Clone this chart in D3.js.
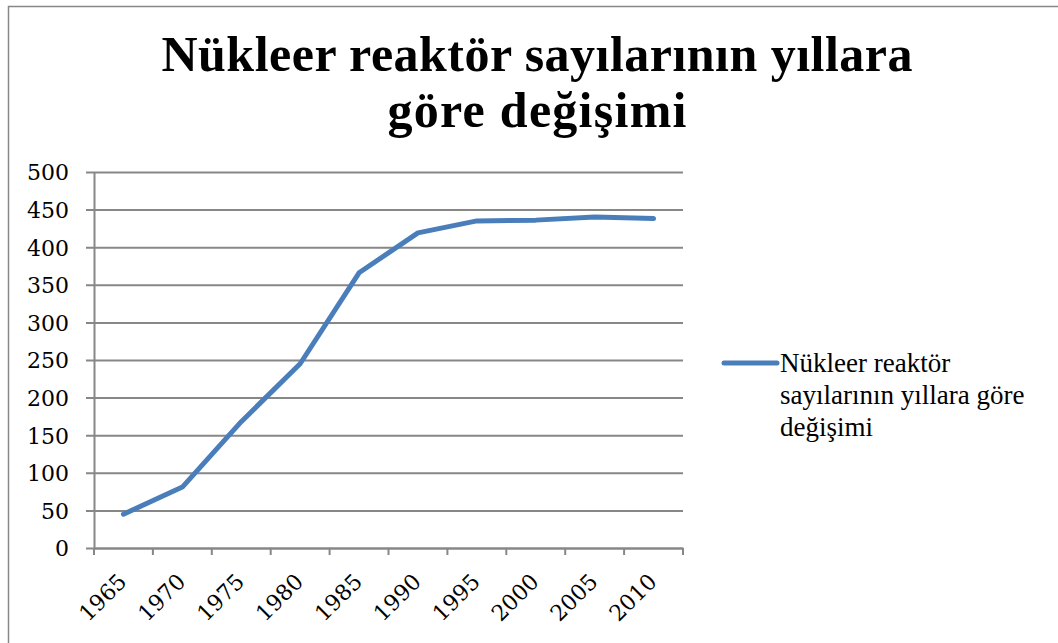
<!DOCTYPE html>
<html>
<head>
<meta charset="utf-8">
<script src="https://cdn.jsdelivr.net/npm/d3@7"></script>
<style>
    body { margin: 0; background: #fff; }
</style>
</head>
<body>
<div id="chart"></div>
<script>
// data
var years = ["1965", "1970", "1975", "1980", "1985", "1990", "1995", "2000", "2005", "2010"];
var reactorCounts = [45, 81, 168, 245, 366, 419, 435, 436, 440, 438];
var yTickValues = [0, 50, 100, 150, 200, 250, 300, 350, 400, 450, 500];
var titleLines = ["Nükleer reaktör sayılarının yıllara", "göre değişimi"];
var legendLines = ["Nükleer reaktör", "sayılarının yıllara göre", "değişimi"];

var width = 1058, height = 643;
var margin = {top: 172, left: 94, right: 375, bottom: 95};
var lineColor = "#4a7ebb", gridColor = "#878787";
var serif = "'Liberation Serif', 'DejaVu Serif', serif";
var numFont = "'DejaVu Serif', serif";

var svg = d3.select("#chart").append("svg")
    .attr("width", width)
    .attr("height", height);

// chart frame (only the top and left edges show in the picture)
svg.append("rect")
    .attr("x", 8.5).attr("y", 6.5)
    .attr("width", width + 20).attr("height", height + 20)
    .attr("fill", "none")
    .attr("stroke", gridColor)
    .attr("stroke-width", 1.5);

var xScale = d3.scaleBand()
    .domain(years)
    .range([margin.left, width - margin.right]);

var yScale = d3.scaleLinear()
    .domain([0, 500])
    .range([height - margin.bottom, margin.top]);

// title, stretched a bit to the width of the original wider face
var titleWidths = [751, 299];
svg.append("g").attr("class", "title")
    .selectAll("text").data(titleLines).enter().append("text")
    .attr("x", 537)
    .attr("y", function (d, i) { return 71 + i * 56; })
    .attr("text-anchor", "middle")
    .attr("textLength", function (d, i) { return titleWidths[i]; })
    .attr("lengthAdjust", "spacing")
    .style("font-family", serif)
    .style("font-size", "50px")
    .style("font-weight", "bold")
    .text(function (d) { return d; });

// y axis with gridlines
var yAxis = d3.axisLeft(yScale)
    .tickValues(yTickValues)
    .tickSizeInner(-(xScale.range()[1] - xScale.range()[0]))
    .tickSizeOuter(0)
    .tickPadding(25);

var yG = svg.append("g")
    .attr("class", "axis y-axis")
    .attr("transform", "translate(" + margin.left + ",0)")
    .call(yAxis);
yG.select(".domain").attr("stroke", gridColor).attr("stroke-width", 2);
yG.selectAll(".tick line").attr("stroke", gridColor).attr("stroke-width", 2).attr("x1", -8);
yG.selectAll(".tick text")
    .style("font-family", numFont)
    .style("font-size", "22px")
    .attr("fill", "#000")
    .attr("dy", "0.36em");

// x axis
var xAxis = d3.axisBottom(xScale).tickSize(0).tickPadding(0);
var xG = svg.append("g")
    .attr("class", "axis x-axis")
    .attr("transform", "translate(0," + yScale(0) + ")")
    .call(xAxis);
xG.select(".domain").attr("stroke", gridColor).attr("stroke-width", 2);

// tick marks sit on band boundaries
var boundaries = years.map(function (y) { return xScale(y); }).concat([xScale.range()[1]]);
xG.selectAll(".bound").data(boundaries).enter().append("line")
    .attr("class", "bound")
    .attr("x1", function (d) { return d; }).attr("x2", function (d) { return d; })
    .attr("y1", 0).attr("y2", 7)
    .attr("stroke", gridColor).attr("stroke-width", 2);

xG.selectAll(".tick text")
    .style("font-family", numFont)
    .style("font-size", "22px")
    .attr("fill", "#000")
    .attr("text-anchor", "end")
    .attr("dy", null)
    .attr("y", 0).attr("x", 0)
    .attr("transform", "translate(4.5,35) rotate(-45)");

// data line
var line = d3.line()
    .x(function (d, i) { return xScale(years[i]) + xScale.bandwidth() / 2; })
    .y(function (d) { return yScale(d); });

svg.append("path")
    .datum(reactorCounts)
    .attr("class", "line")
    .attr("d", line)
    .attr("fill", "none")
    .attr("stroke", lineColor)
    .attr("stroke-width", 5)
    .attr("stroke-linejoin", "round")
    .attr("stroke-linecap", "round");

// legend
var legend = svg.append("g").attr("class", "legend").attr("transform", "translate(722,363)");
legend.append("line")
    .attr("x1", 2).attr("x2", 55)
    .attr("y1", 0).attr("y2", 0)
    .attr("stroke", lineColor)
    .attr("stroke-width", 5)
    .attr("stroke-linecap", "round");
legend.selectAll("text").data(legendLines).enter().append("text")
    .attr("x", 58)
    .attr("y", function (d, i) { return 9 + i * 32; })
    .style("font-family", serif)
    .style("font-size", "27px")
    .text(function (d) { return d; });
</script>
</body>
</html>
